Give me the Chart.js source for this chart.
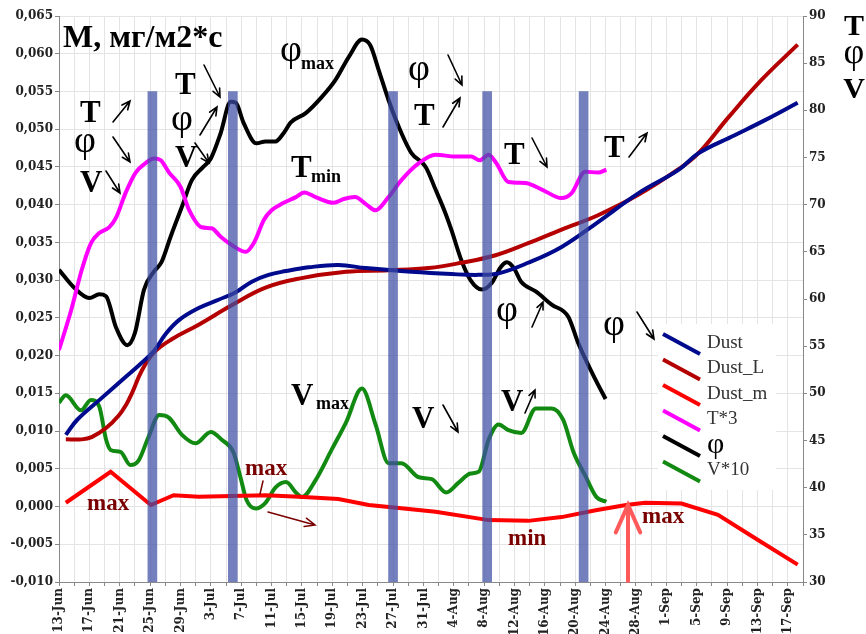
<!DOCTYPE html>
<html>
<head>
<meta charset="utf-8">
<script src="https://cdn.jsdelivr.net/npm/chart.js@4.4.1/dist/chart.umd.min.js"></script>
<style>
  body { margin: 0; background: #fff; }
  canvas { display: block; }
</style>
</head>
<body>
<canvas id="dustChart" width="866" height="634"></canvas>
<script>
// x = days since 13-Jun
const dateLabels = ['13-Jun','17-Jun','21-Jun','25-Jun','29-Jun','3-Jul','7-Jul','11-Jul','15-Jul','19-Jul','23-Jul','27-Jul','31-Jul','4-Aug','8-Aug','12-Aug','16-Aug','20-Aug','24-Aug','28-Aug','1-Sep','5-Sep','9-Sep','13-Sep','17-Sep'];

// --- Dust, mg/m2*s (left axis) ---
const dustX = [0.9, 2.4, 5.3, 8.8, 10.5, 12.5, 14, 15.8, 18.4, 21, 23.3, 25.4, 27.6, 29.9, 32.9, 36.8, 40.4, 46.4, 51.7, 55.3, 57.9, 61.8, 66.2, 71, 76.3, 81.6, 84.2, 89, 93, 97.3];
const dustY = [0.0095, 0.0115, 0.0141, 0.0172, 0.0187, 0.0206, 0.0228, 0.0247, 0.0263, 0.0274, 0.0284, 0.0298, 0.0307, 0.0312, 0.0317, 0.0320, 0.0316, 0.0311, 0.0308, 0.0307, 0.0309, 0.0323, 0.0344, 0.0377, 0.0415, 0.0446, 0.0468, 0.0492, 0.0512, 0.0535];

const dustLX = [0.9, 3, 4.3, 6.2, 7.9, 8.9, 9.6, 10.9, 12.5, 14.9, 18.4, 22.8, 27.2, 31.6, 37.8, 43.4, 48.7, 53, 57.5, 61.8, 66.2, 71, 76.3, 81.6, 84.2, 88.2, 92.5, 97.3];
const dustLY = [0.0089, 0.0089, 0.0092, 0.0104, 0.0121, 0.0136, 0.0150, 0.0180, 0.0204, 0.0222, 0.0241, 0.0267, 0.0290, 0.0302, 0.0311, 0.0313, 0.0316, 0.0323, 0.0333, 0.0349, 0.0367, 0.0386, 0.0413, 0.0447, 0.0468, 0.0516, 0.0565, 0.0612];

const dustMX = [0.9, 6.8, 12.1, 15.1, 18.4, 22.8, 27.2, 31.6, 36.8, 40.8, 43.8, 49.6, 56.6, 61.8, 66.2, 70.7, 74.7, 77.2, 82, 86.8, 91.7, 97.3];
const dustMY = [0.0005, 0.0046, 0.0002, 0.0015, 0.0013, 0.0014, 0.0015, 0.0013, 0.0010, 0.0002, -0.0001, -0.0007, -0.0018, -0.0019, -0.0014, -0.0005, 0.0002, 0.0005, 0.0004, -0.0011, -0.0042, -0.0077];

// --- T*3, phi, V*10 (right axis) ---
const tX = [0, 1.6, 3, 4.2, 5.3, 6.6, 7.5, 8.8, 10.1, 11.4, 12.5, 13.4, 14.5, 16, 17.1, 18.8, 20.1, 21.3, 22.8, 24.6, 25.7, 27, 28, 29.6, 31.2, 32.3, 33.8, 36.2, 37.5, 39, 40.5, 41.7, 43.4, 45.1, 47.4, 49.6, 52.2, 54.3, 55.4, 56.6, 57.6, 59.2, 61.4, 63.6, 66.2, 67.5, 69.3, 71, 72.1];
const tY = [54.6, 58.8, 63.1, 65.9, 67.0, 67.6, 68.6, 71.3, 73.4, 74.4, 74.9, 74.7, 73.4, 71.9, 69.5, 67.6, 67.5, 66.6, 65.7, 65.0, 66.0, 68.4, 69.4, 70.2, 70.8, 71.3, 70.8, 70.2, 70.6, 70.8, 70.0, 69.4, 70.8, 72.6, 74.4, 75.3, 75.1, 75.1, 74.7, 75.3, 74.4, 72.4, 72.3, 71.6, 70.7, 71.2, 73.5, 73.4, 73.7];

const phiX = [0, 2, 4, 5.3, 6.2, 7.5, 9, 10, 11.2, 12.5, 13.5, 14.7, 16.2, 17.5, 19, 20, 21.3, 22.6, 23.3, 24.3, 26, 27.2, 28.5, 29.6, 30.5, 32.5, 34.6, 36.4, 38.2, 39.9, 41, 42.1, 43.4, 45.1, 46.4, 48.3, 49.6, 50.9, 51.7, 53, 54.2, 55.7, 57, 58.2, 59, 59.9, 60.9, 62.8, 64.9, 67.1, 68.4, 70.7, 72];
const phiY = [63.1, 61.2, 60.1, 60.5, 60.3, 57.0, 55.1, 56.4, 61.0, 62.9, 63.9, 66.6, 69.8, 72.6, 74.0, 74.9, 77.6, 80.9, 80.8, 78.7, 76.5, 76.7, 76.7, 77.6, 78.7, 79.7, 81.4, 83.2, 85.7, 87.5, 86.9, 84.3, 81.1, 77.6, 75.5, 74.0, 71.6, 69.1, 67.3, 64.1, 62.0, 61.0, 61.7, 63.4, 63.9, 63.3, 61.8, 60.8, 59.4, 58.1, 55.3, 51.4, 49.4];

const vX = [0, 0.9, 2.9, 4.2, 5.3, 6.2, 6.8, 8.1, 9.4, 10.5, 11.8, 13.2, 14.5, 16.2, 18, 20, 21.4, 23, 23.9, 24.7, 25.9, 27.2, 28.5, 29.9, 31.3, 32, 33.8, 35.9, 37.8, 39.9, 41.7, 43.4, 45.1, 47.4, 49.1, 51, 52.6, 54.2, 55.3, 56.6, 57.9, 59.2, 60.9, 62.8, 64.9, 66.4, 67.8, 69.3, 70.8, 72.1];
const vY = [49.0, 49.8, 48.2, 49.3, 48.6, 45.1, 44.0, 43.8, 42.4, 42.9, 45.4, 47.7, 47.4, 45.6, 44.7, 45.9, 45.1, 43.7, 41.1, 38.7, 37.8, 38.4, 40.0, 40.6, 39.4, 39.0, 40.8, 44.0, 46.9, 50.5, 46.7, 42.6, 42.6, 41.1, 40.9, 39.5, 40.5, 41.5, 41.7, 45.1, 46.7, 46.1, 45.8, 48.4, 48.4, 47.2, 43.7, 41.3, 39.0, 38.5];

// vertical marker bars
const barDays = [12.3, 22.9, 44.0, 56.4, 69.1];
const barTop = 0.055;
const barBottom = -0.010;

const legendItems = [
    { label: 'Dust', color: '#000a8c' },
    { label: 'Dust_L', color: '#b40000' },
    { label: 'Dust_m', color: '#ff0000' },
    { label: 'T*3', color: '#ff00ff' },
    { label: 'φ', color: '#000000' },
    { label: 'V*10', color: '#128a12' }
];

const pts = (xs, ys) => xs.map((x, i) => ({ x: x, y: ys[i] }));

// mode: 'smooth' | 'mono' | 'straight'
function line(label, xs, ys, color, axis, mode) {
    return {
        type: 'line', label: label, data: pts(xs, ys), yAxisID: axis,
        borderColor: color, borderWidth: 4, pointRadius: 0,
        cubicInterpolationMode: mode === 'mono' ? 'monotone' : 'default',
        tension: mode === 'smooth' ? 0.4 : 0,
        order: 2
    };
}

function arrow(c, x1, y1, x2, y2, col, w, h, ang) {
    const a = Math.atan2(y2 - y1, x2 - x1);
    c.strokeStyle = col;
    c.lineWidth = w;
    c.lineCap = 'round';
    c.beginPath();
    c.moveTo(x1, y1);
    c.lineTo(x2, y2);
    c.moveTo(x2 - h * Math.cos(a - ang), y2 - h * Math.sin(a - ang));
    c.lineTo(x2, y2);
    c.lineTo(x2 - h * Math.cos(a + ang), y2 - h * Math.sin(a + ang));
    c.stroke();
}

const SERIF = '"Liberation Serif", "Times New Roman", serif';

const notes = {
    id: 'notes',
    afterDatasetsDraw(chart) {
        const c = chart.ctx;
        c.save();
        const txt = (s, x, y, font, col) => {
            c.font = font; c.fillStyle = col || '#000';
            c.textAlign = 'left'; c.textBaseline = 'alphabetic';
            c.fillText(s, x, y);
        };
        const big = 'bold 31px ' + SERIF;
        const phi = '38px ' + SERIF;
        const sub = 'bold 18px ' + SERIF;
        const red = 'bold 23px ' + SERIF;
        const dk = '#7a0000';

        txt('M, мг/м2*с', 63, 47, 'bold 32px ' + SERIF);

        // 25-Jun group
        txt('T', 80, 122, big); arrow(c, 113, 122, 130, 101, '#000', 1.6, 9, 0.42);
        txt('φ', 74, 152, phi); arrow(c, 113, 137, 130, 162, '#000', 1.6, 9, 0.42);
        txt('V', 80, 192, big); arrow(c, 106, 171, 120, 193, '#000', 1.6, 9, 0.42);
        // 5-Jul group
        txt('T', 175, 94, big); arrow(c, 204, 65, 220, 97, '#000', 1.6, 9, 0.42);
        txt('φ', 171, 130, phi); arrow(c, 200, 135, 217, 107, '#000', 1.6, 9, 0.42);
        txt('V', 175, 167, big); arrow(c, 195, 143, 209, 163, '#000', 1.6, 9, 0.42);

        txt('φ', 280, 61, phi); txt('max', 301, 69, sub);
        txt('T', 291, 177, big); txt('min', 311, 182, sub);

        txt('φ', 408, 80, phi); arrow(c, 448, 55, 462, 85, '#000', 1.6, 9, 0.42);
        txt('T', 414, 125, big); arrow(c, 443, 127, 460, 98, '#000', 1.6, 9, 0.42);
        txt('T', 504, 164, big); arrow(c, 532, 138, 547, 167, '#000', 1.6, 9, 0.42);
        txt('T', 604, 157, big); arrow(c, 629, 157, 647, 133, '#000', 1.6, 9, 0.42);

        txt('φ', 496, 321, phi); arrow(c, 532, 327, 543, 302, '#000', 1.6, 8, 0.42);
        txt('φ', 603, 335, phi); arrow(c, 637, 312, 654, 339, '#000', 1.6, 9, 0.42);

        txt('V', 291, 405, big); txt('max', 316, 409, sub);
        txt('V', 412, 428, big); arrow(c, 443, 405, 458, 432, '#000', 1.6, 9, 0.42);
        txt('V', 501, 411, big); arrow(c, 525, 413, 535, 390, '#000', 1.6, 8, 0.42);

        // Dust_m remarks
        txt('max', 87, 510, red, dk);
        txt('max', 245, 475, red, dk);
        c.strokeStyle = dk; c.lineWidth = 1.5;
        c.beginPath(); c.moveTo(263, 481); c.lineTo(260, 494); c.stroke();
        arrow(c, 268, 512, 315, 525, dk, 1.5, 11, 0.4);
        txt('min', 508, 545, red, dk);
        txt('max', 642, 523, red, dk);
        arrow(c, 628, 581, 628, 505, '#ff5a5a', 4, 30, 0.42);

        // right axis title
        c.textAlign = 'center'; c.fillStyle = '#000';
        c.font = 'bold 30px ' + SERIF; c.fillText('T', 854, 35);
        c.font = '36px ' + SERIF; c.fillText('φ', 854, 63);
        c.font = 'bold 30px ' + SERIF; c.fillText('V', 854, 98);

        // legend
        c.fillStyle = '#fff';
        c.fillRect(658, 324, 118, 166);
        legendItems.forEach((it, i) => {
            const y0 = 334 + i * 25.5;
            c.strokeStyle = it.color; c.lineWidth = 4; c.lineCap = 'butt';
            c.beginPath(); c.moveTo(663, y0); c.lineTo(700, y0 + 20); c.stroke();
            c.fillStyle = it.label === 'φ' ? '#000' : '#333';
            c.font = it.label === 'φ' ? '30px ' + SERIF : '19px ' + SERIF;
            c.textAlign = 'left'; c.textBaseline = 'middle';
            c.fillText(it.label, 707, y0 + 9);
        });
        c.restore();
    }
};

new Chart(document.getElementById('dustChart'), {
    data: {
        datasets: [
            line('Dust', dustX, dustY, '#000a8c', 'y', 'smooth'),
            line('Dust_L', dustLX, dustLY, '#b40000', 'y', 'smooth'),
            line('Dust_m', dustMX, dustMY, '#ff0000', 'y', 'straight'),
            line('T*3', tX, tY, '#ff00ff', 'y2', 'mono'),
            line('φ', phiX, phiY, '#000000', 'y2', 'mono'),
            line('V*10', vX, vY, '#128a12', 'y2', 'mono'),
            {
                type: 'bar', label: 'marks',
                data: barDays.map(d => ({ x: d, y: [barBottom, barTop] })),
                yAxisID: 'y', barThickness: 9,
                backgroundColor: 'rgba(62,78,164,0.72)',
                order: 1
            }
        ]
    },
    options: {
        responsive: false,
        animation: false,
        devicePixelRatio: 1,
        layout: { padding: { top: 16, left: 0, right: 0, bottom: 0 } },
        scales: {
            x: {
                type: 'linear', min: 0, max: 98, offset: false,
                afterFit: s => { s.height = 52; },
                grid: { color: '#e4e4e4', tickLength: 4, offset: false, tickColor: '#888' },
                border: { color: '#888' },
                ticks: {
                    stepSize: 2, autoSkip: false, maxRotation: 90, minRotation: 90, padding: 2,
                    color: '#222', font: { family: '"DejaVu Serif"', weight: 'bold', size: 12 },
                    callback: v => {
                        const d = Math.round(v);
                        return d % 4 === 0 && dateLabels[d / 4] ? dateLabels[d / 4] : '';
                    }
                }
            },
            y: {
                position: 'left', min: -0.010, max: 0.065,
                afterFit: s => { s.width = 59; },
                grid: { color: '#e4e4e4', tickLength: 4, tickColor: '#888' },
                border: { color: '#888' },
                ticks: {
                    stepSize: 0.005, padding: 2, color: '#222',
                    font: { family: '"DejaVu Serif"', weight: 'bold', size: 12 },
                    callback: v => v.toFixed(3).replace('.', ',')
                }
            },
            y2: {
                position: 'right', min: 30, max: 90,
                afterFit: s => { s.width = 63; },
                grid: { drawOnChartArea: false, tickLength: 4, tickColor: '#888' },
                border: { color: '#888' },
                ticks: {
                    stepSize: 5, padding: 2, color: '#222',
                    font: { family: '"DejaVu Serif"', weight: 'bold', size: 12 }
                }
            }
        },
        plugins: { legend: { display: false }, tooltip: { enabled: false } }
    },
    plugins: [notes]
});
</script>
</body>
</html>
